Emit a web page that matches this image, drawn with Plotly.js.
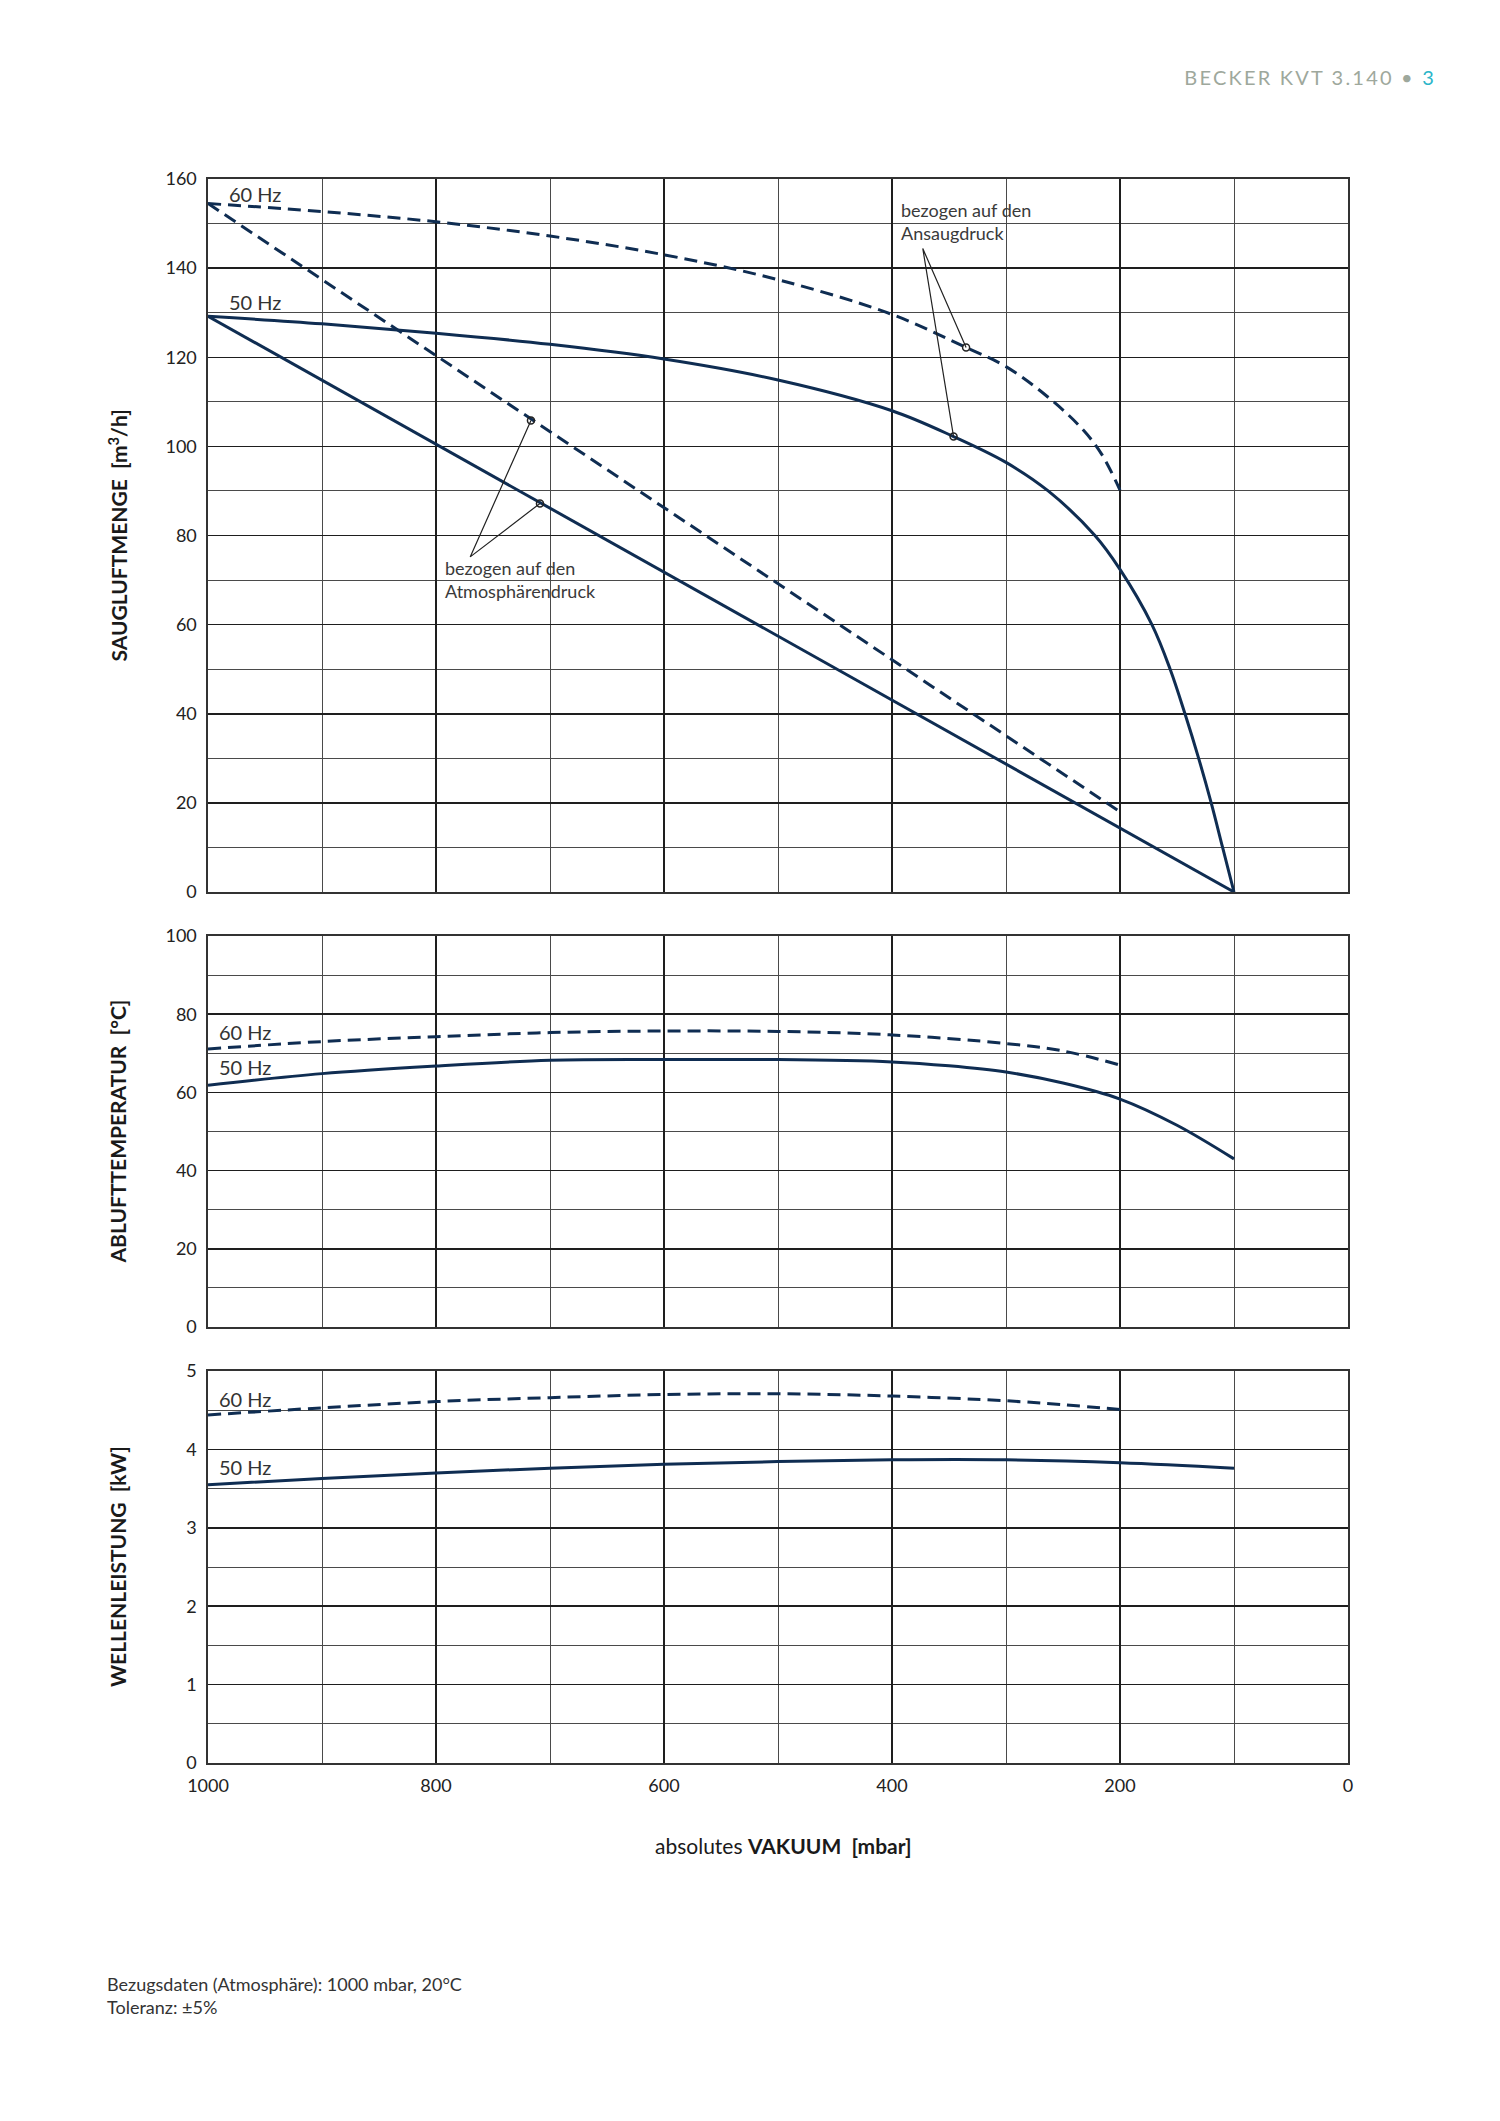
<!DOCTYPE html>
<html>
<head>
<meta charset="utf-8">
<script src="https://cdn.plot.ly/plotly-3.0.1.min.js"></script>
<style>
  body { margin: 0; background: #fff; }
  #kopf {
    position: absolute; right: 64px; top: 65px;
    font-family: Lato, "Open Sans", sans-serif; font-size: 20px;
    letter-spacing: 2.2px; color: #9ea89c; z-index: 5;
  }
  #kopf span { color: #2bb5c9; }
  #chart { position: absolute; left: 0; top: 0; }
</style>
</head>
<body>
<div id="kopf">BECKER KVT 3.140 &bull; <span>3</span></div>
<div id="chart"></div>
<script>
// Saugluftmenge, bezogen auf den Ansaugdruck
var menge50Ansaug_x = [1000, 900, 800, 700, 600, 500, 400, 346, 300, 263, 222, 200, 172, 156, 143, 131, 120, 110, 100];
var menge50Ansaug_y = [129.2, 127.5, 125.4, 122.9, 119.6, 114.9, 108, 102.2, 96.4, 90, 80, 72.4, 60, 50, 40, 30, 20, 10, 0];
var menge60Ansaug_x = [1000, 900, 800, 700, 600, 500, 400, 335, 300, 261, 232, 216, 200];
var menge60Ansaug_y = [154.5, 152.7, 150.4, 147.2, 143, 137.4, 129.6, 122.2, 117.9, 110.6, 103.6, 98.2, 90.2];

// Saugluftmenge, bezogen auf den Atmosphärendruck
var menge50Atmos_x = [1000, 100];
var menge50Atmos_y = [129.2, 0];
var menge60Atmos_x = [1000, 200];
var menge60Atmos_y = [154.5, 18];

// Hinweispunkte und Ursprung der Hinweislinien
var atmosPunkt_x = [716.7, 708.8];
var atmosPunkt_y = [105.8, 87.2];
var atmosUrsprung = [770, 75.2];
var ansaugPunkt_x = [335, 346];
var ansaugPunkt_y = [122.2, 102.2];
var ansaugUrsprung = [373, 144.4];

// Ablufttemperatur
var temp60_x = [1000, 900, 800, 700, 600, 500, 400, 300, 250, 200];
var temp60_y = [71.1, 73, 74.25, 75.3, 75.7, 75.6, 74.7, 72.5, 70.6, 67.0];
var temp50_x = [1000, 900, 800, 700, 600, 500, 400, 350, 300, 250, 200, 150, 100];
var temp50_y = [61.8, 64.8, 66.75, 68.2, 68.4, 68.4, 67.8, 66.8, 65.2, 62.4, 58.3, 51.6, 43.0];

// Wellenleistung
var leist60_x = [1000, 900, 800, 700, 600, 500, 400, 300, 250, 200];
var leist60_y = [4.44, 4.53, 4.61, 4.66, 4.70, 4.71, 4.68, 4.62, 4.57, 4.51];
var leist50_x = [1000, 900, 800, 700, 600, 500, 400, 300, 200, 100];
var leist50_y = [3.55, 3.63, 3.70, 3.76, 3.81, 3.845, 3.867, 3.867, 3.83, 3.76];

var xTicks = [1000, 800, 600, 400, 200, 0];

var blau = '#0f2d52';
var schrift = 'Lato, "Open Sans", sans-serif';
var strich = '13px,7px';

function kurve(x, y, ax, gestrichelt, glatt) {
  return {
    x: x, y: y, xaxis: ax[0], yaxis: ax[1], mode: 'lines', hoverinfo: 'skip',
    line: { color: blau, width: 3, dash: gestrichelt ? strich : 'solid',
            shape: glatt ? 'spline' : 'linear', smoothing: 1 }
  };
}

function hinweis(px, py, ursprung) {
  return {
    x: [px[0], ursprung[0], px[1]], y: [py[0], ursprung[1], py[1]],
    xaxis: 'x', yaxis: 'y', mode: 'lines', hoverinfo: 'skip',
    line: { color: '#222', width: 1.2 }
  };
}

function punkte(px, py) {
  return {
    x: px, y: py, xaxis: 'x', yaxis: 'y', mode: 'markers', hoverinfo: 'skip',
    marker: { symbol: 'circle-open', size: 7, color: '#222', line: { width: 1.5, color: '#222' } }
  };
}

var data = [
  kurve(menge60Atmos_x, menge60Atmos_y, ['x', 'y'], true, false),
  kurve(menge50Atmos_x, menge50Atmos_y, ['x', 'y'], false, false),
  kurve(menge60Ansaug_x, menge60Ansaug_y, ['x', 'y'], true, true),
  kurve(menge50Ansaug_x, menge50Ansaug_y, ['x', 'y'], false, true),
  hinweis(atmosPunkt_x, atmosPunkt_y, atmosUrsprung),
  hinweis(ansaugPunkt_x, ansaugPunkt_y, ansaugUrsprung),
  punkte(atmosPunkt_x, atmosPunkt_y),
  punkte(ansaugPunkt_x, ansaugPunkt_y),
  kurve(temp60_x, temp60_y, ['x2', 'y2'], true, true),
  kurve(temp50_x, temp50_y, ['x2', 'y2'], false, true),
  kurve(leist60_x, leist60_y, ['x3', 'y3'], true, true),
  kurve(leist50_x, leist50_y, ['x3', 'y3'], false, true)
];

var W = 1500, H = 2121;
var xDom = [208 / W, 1348 / W];
function yDom(oben, unten) { return [1 - unten / H, 1 - oben / H]; }

function xAchse(anker, beschriftet) {
  return {
    domain: xDom, anchor: anker, range: [1000, 0], tickvals: xTicks,
    showticklabels: beschriftet, ticks: 'outside', ticklen: 6, tickcolor: 'rgba(0,0,0,0)',
    zeroline: false,
    showgrid: true, gridcolor: '#1e1e1e', gridwidth: 1.5,
    minor: { dtick: 100, showgrid: true, gridcolor: '#4a4a4a', gridwidth: 1 },
    showline: true, mirror: true, linecolor: '#333', linewidth: 1.6,
    tickfont: { family: schrift, size: 18, color: '#222' }
  };
}
function yAchse(anker, dom, bereich, schritt, fein) {
  return {
    domain: dom, anchor: anker, range: bereich, dtick: schritt, tick0: 0,
    ticks: 'outside', ticklen: 6, tickcolor: 'rgba(0,0,0,0)', zeroline: false,
    showgrid: true, gridcolor: '#1e1e1e', gridwidth: 1.5,
    minor: { dtick: fein, showgrid: true, gridcolor: '#4a4a4a', gridwidth: 1 },
    showline: true, mirror: true, linecolor: '#333', linewidth: 1.6,
    tickfont: { family: schrift, size: 18, color: '#222' }
  };
}

function text(t, x, y, xref, yref, opt) {
  var a = {
    text: t, x: x, y: y, xref: xref, yref: yref, showarrow: false,
    xanchor: 'left', yanchor: 'middle', align: 'left',
    font: { family: schrift, size: 18, color: '#3a3a3a' }
  };
  for (var k in opt) a[k] = opt[k];
  return a;
}

function achsTitel(t, yref) {
  return {
    text: t, x: 117 / W, y: 0.5, xref: 'paper', yref: yref, showarrow: false,
    textangle: -90, xanchor: 'center', yanchor: 'middle',
    font: { family: schrift, size: 21, color: '#1a1a1a', weight: 'bold' }
  };
}

var hz = { family: schrift, size: 20, color: '#333' };

var layout = {
  width: W, height: H, margin: { l: 0, r: 0, t: 0, b: 0 },
  paper_bgcolor: '#fff', plot_bgcolor: '#fff', showlegend: false,
  xaxis: xAchse('y', false),
  xaxis2: xAchse('y2', false),
  xaxis3: xAchse('y3', true),
  yaxis: yAchse('x', yDom(179, 892), [0, 160], 20, 10),
  yaxis2: yAchse('x2', yDom(936, 1327), [0, 100], 20, 10),
  yaxis3: yAchse('x3', yDom(1371, 1763), [0, 5], 1, 0.5),
  annotations: [
    text('60 Hz', 983, 156.6, 'x', 'y', { font: hz }),
    text('50 Hz', 983, 132.4, 'x', 'y', { font: hz }),
    text('bezogen auf den<br>Atmosphärendruck', 794, 75.6, 'x', 'y', { yanchor: 'top' }),
    text('bezogen auf den<br>Ansaugdruck', 394, 156.0, 'x', 'y', { yanchor: 'top' }),
    text('60 Hz', 992, 75.4, 'x2', 'y2', { font: hz }),
    text('50 Hz', 992, 66.4, 'x2', 'y2', { font: hz }),
    text('60 Hz', 992, 4.64, 'x3', 'y3', { font: hz }),
    text('50 Hz', 992, 3.77, 'x3', 'y3', { font: hz }),
    achsTitel('SAUGLUFTMENGE  [m<sup>3</sup>/h]', 'y domain'),
    achsTitel('ABLUFTTEMPERATUR  [°C]', 'y2 domain'),
    achsTitel('WELLENLEISTUNG  [kW]', 'y3 domain'),
    text('absolutes <b>VAKUUM  [mbar]</b>', 784 / W, 1 - 1845 / H, 'paper', 'paper',
         { xanchor: 'center', font: { family: schrift, size: 21, color: '#1a1a1a' } }),
    text('Bezugsdaten (Atmosphäre): 1000 mbar, 20°C', 105 / W, 1 - 1984 / H, 'paper', 'paper',
         { font: { family: schrift, size: 18, color: '#333' } }),
    text('Toleranz: ±5%', 105 / W, 1 - 2007 / H, 'paper', 'paper',
         { font: { family: schrift, size: 18, color: '#333' } })
  ]
};

Plotly.newPlot('chart', data, layout, { staticPlot: true });
</script>
</body>
</html>
